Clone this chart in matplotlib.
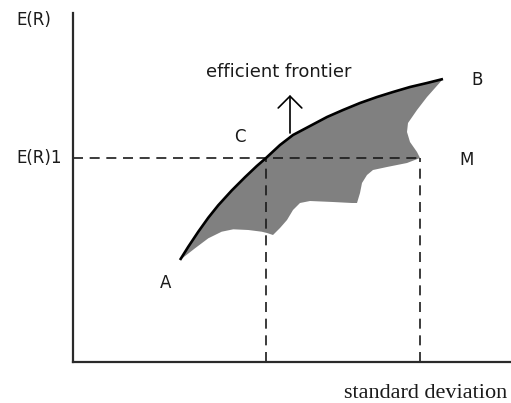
import matplotlib
matplotlib.use("Agg")
import matplotlib.pyplot as plt

# Efficient frontier (upper edge) from A to B: standard deviation, expected return
frontier_sd = [10.7, 11.53, 12.53, 13.53, 14.53, 15.87, 17.2, 18.37, 19.3, 20.7,
               22.0, 23.7, 25.4, 27.0, 28.7, 30.4, 32.0, 33.7, 35.4, 37.0]
frontier_er = [10.2, 11.53, 13.03, 14.43, 15.68, 17.15, 18.48, 19.59, 20.4, 21.7,
               22.7, 23.6, 24.5, 25.2, 25.9, 26.5, 27.0, 27.5, 27.9, 28.3]

# Right edge of the feasible set from B down to M
right_sd = [37.0, 35.4, 34.4, 33.5, 33.4, 33.7, 34.4, 34.7]
right_er = [28.3, 26.5, 25.2, 23.9, 23.0, 22.0, 21.0, 20.4]

# Lower edge of the feasible set from M back to A
lower_sd = [34.7, 33.4, 31.4, 30.0, 29.4, 28.9, 28.7, 28.4, 27.9, 26.0, 23.7,
            22.7, 22.0, 21.4, 20.7, 20.0, 19.4, 18.87, 17.53, 16.03, 14.87,
            13.53, 12.2, 10.7]
lower_er = [20.4, 19.9, 19.5, 19.2, 18.7, 17.9, 16.9, 15.9, 15.9, 16.0, 16.1,
            15.9, 15.2, 14.2, 13.4, 12.7, 12.9, 13.03, 13.2, 13.27, 13.03,
            12.37, 11.37, 10.2]

# Key points
C_sd, ER1 = 19.3, 20.4
M_sd = 34.7
arrow_sd, arrow_from, arrow_to = 21.7, 22.9, 26.7

W, H = 511, 403
fig = plt.figure(figsize=(W / 100, H / 100), dpi=100)
ax = fig.add_axes([73 / W, (H - 362) / H, (W - 73) / W, (362 - 13) / H])
ax.set_xlim(0, 43.8)
ax.set_ylim(0, 34.9)
for s in ("top", "right"):
    ax.spines[s].set_visible(False)
for s in ("left", "bottom"):
    ax.spines[s].set_linewidth(1.6)
    ax.spines[s].set_color("#2a2a2a")
ax.set_xticks([])
ax.set_yticks([])

poly_x = frontier_sd + right_sd + lower_sd
poly_y = frontier_er + right_er + lower_er
ax.fill(poly_x, poly_y, color="#808080", lw=0, zorder=1)
ax.plot(frontier_sd, frontier_er, color="black", lw=1.9, zorder=3,
        solid_capstyle="butt", solid_joinstyle="round")

dash = dict(color="#1a1a1a", lw=1.2, dashes=(6, 4), zorder=2)
ax.plot([0, M_sd], [ER1, ER1], **dash)
ax.plot([C_sd, C_sd], [0, ER1], **dash)
ax.plot([M_sd, M_sd], [0, ER1], **dash)

ax.annotate("", xy=(arrow_sd, arrow_to), xytext=(arrow_sd, arrow_from),
            arrowprops=dict(arrowstyle="->,head_length=0.85,head_width=0.85",
                            lw=1.2, color="black", shrinkA=0, shrinkB=0))

tk = dict(fontsize=12, color="#1a1a1a", family="DejaVu Sans", va="center")
ax.text(9.3, 7.9, "A", ha="center", **tk)
ax.text(40.4, 28.2, "B", ha="center", **tk)
ax.text(39.4, 20.2, "M", ha="center", **tk)
ax.text(16.7, 22.5, "C", ha="center", **tk)
ax.text(20.6, 29.0, "efficient frontier", ha="center", fontsize=13,
        color="#1a1a1a", family="DejaVu Sans", va="center")
ax.text(-5.7, 34.2, "E(R)", ha="left", clip_on=False, **tk)
ax.text(-5.7, ER1, "E(R)1", ha="left", clip_on=False, **tk)

fig.text(507 / W, 1 - 393 / H, "standard deviation", ha="right", va="center",
         fontsize=16, family="Liberation Serif", color="#1a1a1a")

fig.savefig("out.png", dpi=100)
